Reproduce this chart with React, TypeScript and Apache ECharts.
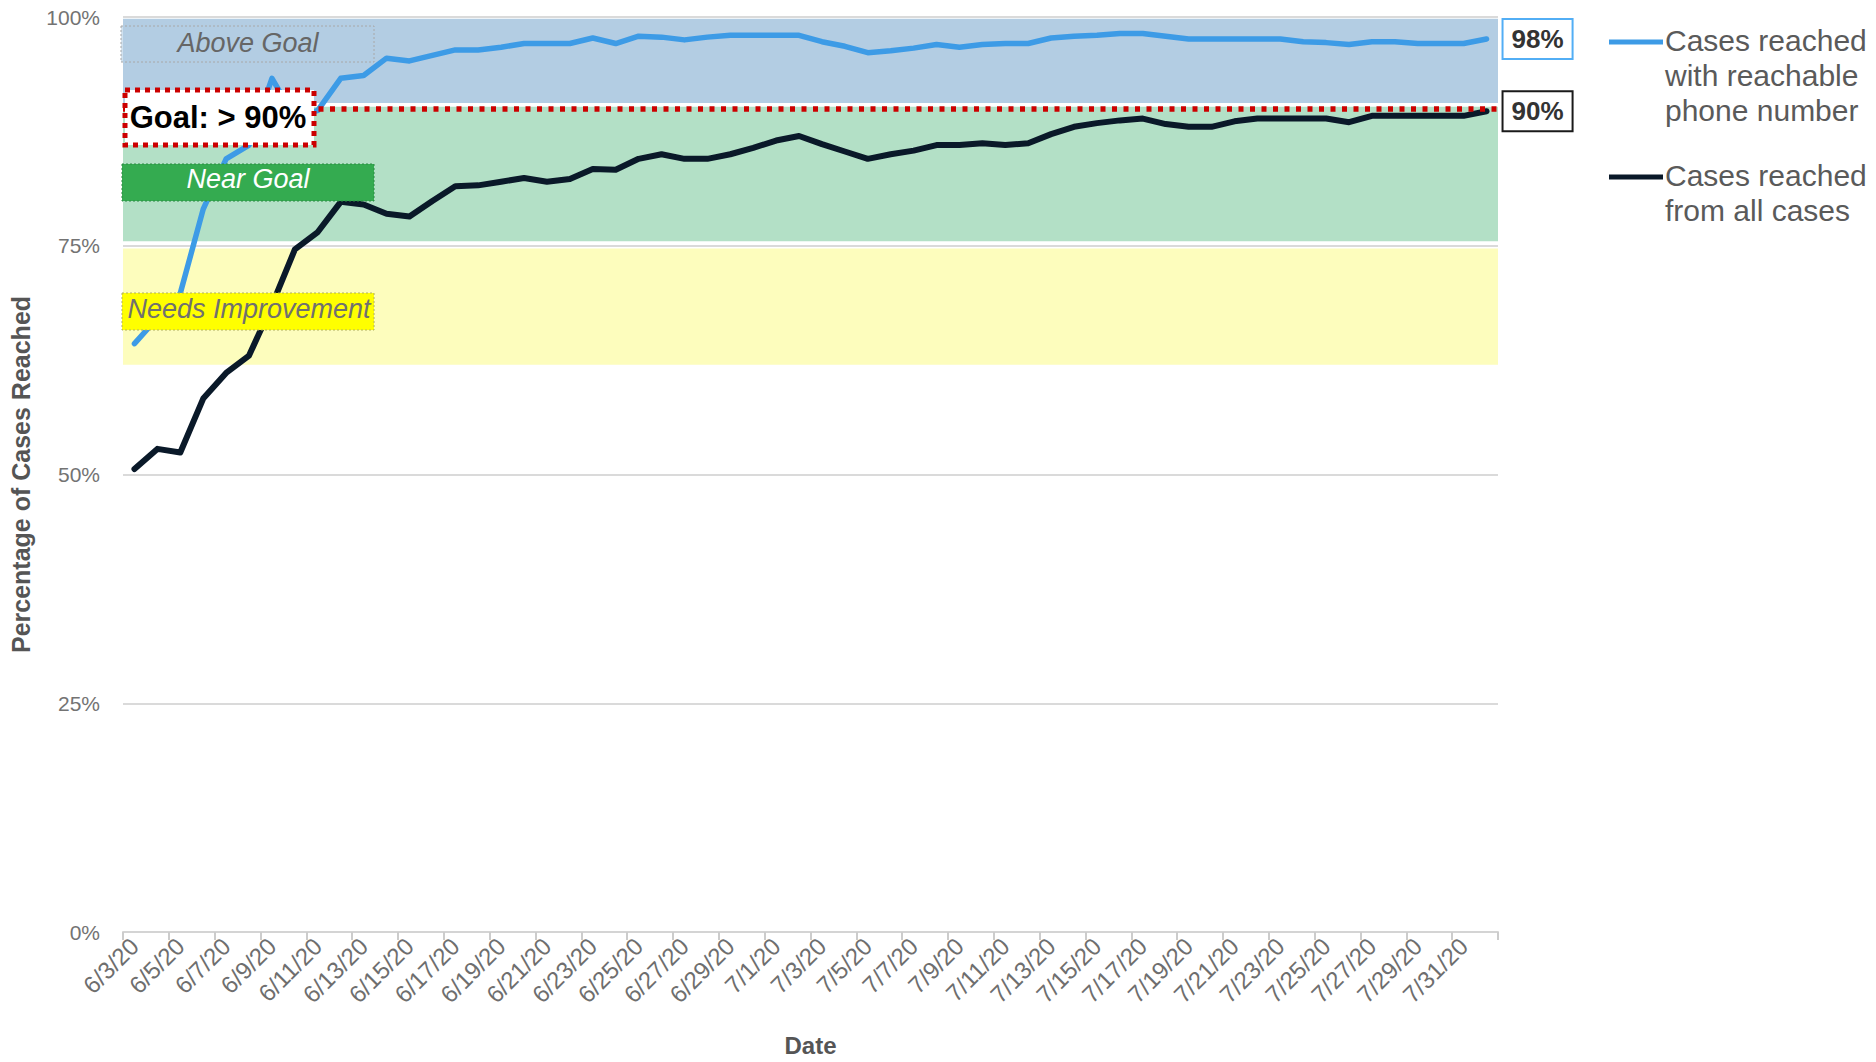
import React, { useEffect, useRef } from 'react';
import * as echarts from 'echarts';

const dates = [
  '6/3/20', '6/4/20', '6/5/20', '6/6/20', '6/7/20', '6/8/20', '6/9/20', '6/10/20', '6/11/20', '6/12/20',
  '6/13/20', '6/14/20', '6/15/20', '6/16/20', '6/17/20', '6/18/20', '6/19/20', '6/20/20', '6/21/20', '6/22/20',
  '6/23/20', '6/24/20', '6/25/20', '6/26/20', '6/27/20', '6/28/20', '6/29/20', '6/30/20', '7/1/20', '7/2/20',
  '7/3/20', '7/4/20', '7/5/20', '7/6/20', '7/7/20', '7/8/20', '7/9/20', '7/10/20', '7/11/20', '7/12/20',
  '7/13/20', '7/14/20', '7/15/20', '7/16/20', '7/17/20', '7/18/20', '7/19/20', '7/20/20', '7/21/20', '7/22/20',
  '7/23/20', '7/24/20', '7/25/20', '7/26/20', '7/27/20', '7/28/20', '7/29/20', '7/30/20', '7/31/20', '8/1/20',
];

// Cases reached with reachable phone number (%)
const reachablePhone = [
  64.3, 67.1, 69.8, 79.0, 84.5, 86.0, 93.3, 89.0, 89.8, 93.3,
  93.6, 95.5, 95.2, 95.8, 96.4, 96.4, 96.7, 97.1, 97.1, 97.1,
  97.7, 97.1, 97.9, 97.8, 97.5, 97.8, 98.0, 98.0, 98.0, 98.0,
  97.3, 96.8, 96.1, 96.3, 96.6, 97.0, 96.7, 97.0, 97.1, 97.1,
  97.7, 97.9, 98.0, 98.2, 98.2, 97.9, 97.6, 97.6, 97.6, 97.6,
  97.6, 97.3, 97.2, 97.0, 97.3, 97.3, 97.1, 97.1, 97.1, 97.6,
];

// Cases reached from all cases (%)
const allCases = [
  50.6, 52.8, 52.4, 58.3, 61.1, 63.0, 68.5, 74.6, 76.5, 79.8,
  79.5, 78.5, 78.2, 79.9, 81.5, 81.6, 82.0, 82.4, 82.0, 82.3,
  83.4, 83.3, 84.5, 85.0, 84.5, 84.5, 85.0, 85.7, 86.5, 87.0,
  86.1, 85.3, 84.5, 85.0, 85.4, 86.0, 86.0, 86.2, 86.0, 86.2,
  87.2, 88.0, 88.4, 88.7, 88.9, 88.3, 88.0, 88.0, 88.6, 88.9,
  88.9, 88.9, 88.9, 88.5, 89.2, 89.2, 89.2, 89.2, 89.2, 89.7,
];

const goalValue = 90;
const aboveGoalBand = [90.6, 99.8];
const nearGoalBand = [75.5, 90.2];
const needsImprovementBand = [62, 74.7];

const seriesNames = ['Cases reached\nwith reachable\nphone number', 'Cases reached\nfrom all cases'];

const FONT = "Arial, 'Liberation Sans', Helvetica, sans-serif";

export default function App() {
  const ref = useRef<HTMLDivElement>(null);

  useEffect(() => {
    const chart = echarts.init(ref.current as HTMLDivElement, null, { renderer: 'svg' });
    const blue = '#3d9be6';
    const dark = '#0a1929';

    chart.setOption({
      animation: false,
      backgroundColor: '#ffffff',
      textStyle: { fontFamily: FONT },
      grid: { left: 121, right: 378, top: 17, bottom: 124, containLabel: false },
      xAxis: {
        type: 'category',
        data: dates,
        boundaryGap: true,
        name: 'Date',
        nameLocation: 'middle',
        nameGap: 101,
        nameTextStyle: { fontSize: 24, fontWeight: 'bold', color: '#555555', fontFamily: FONT },
        axisLine: { show: true, lineStyle: { color: '#d4d4d4', width: 2 } },
        axisTick: { show: true, interval: 1, length: 8, lineStyle: { color: '#cccccc', width: 2 } },
        axisLabel: {
          interval: 1,
          rotate: 45,
          fontSize: 24,
          color: '#6e6e6e',
          margin: 10,
          fontFamily: FONT,
        },
        splitLine: { show: false },
      },
      yAxis: {
        type: 'value',
        min: 0,
        max: 100,
        interval: 25,
        name: 'Percentage of Cases Reached',
        nameLocation: 'middle',
        nameGap: 90,
        nameTextStyle: { fontSize: 25, fontWeight: 'bold', color: '#555555', fontFamily: FONT },
        axisLine: { show: false },
        axisTick: { show: false },
        axisLabel: { formatter: '{value}%', fontSize: 21, color: '#737373', margin: 23, fontFamily: FONT },
        splitLine: { show: true, lineStyle: { color: '#dadada', width: 2 } },
      },
      series: [
        {
          name: seriesNames[0],
          type: 'line',
          data: reachablePhone,
          symbol: 'none',
          z: 4,
          lineStyle: { color: blue, width: 5.5, join: 'round', cap: 'round' },
          itemStyle: { color: blue },
          endLabel: {
            show: true,
            formatter: (p: any) => Math.round(Number(p.value)) + '%',
            fontSize: 26,
            fontWeight: 'bold',
            color: '#333333',
            backgroundColor: '#ffffff',
            borderColor: '#52aef5',
            borderWidth: 2,
            padding: [7, 8, 5, 8],
            distance: 17,
            fontFamily: FONT,
          },
          markArea: {
            silent: true,
            label: { show: false },
            data: [
              [{ yAxis: aboveGoalBand[0], itemStyle: { color: '#b3cde3' } }, { yAxis: aboveGoalBand[1] }],
              [{ yAxis: nearGoalBand[0], itemStyle: { color: '#b3e0c6' } }, { yAxis: nearGoalBand[1] }],
              [{ yAxis: needsImprovementBand[0], itemStyle: { color: '#fdfdbd' } }, { yAxis: needsImprovementBand[1] }],
            ],
          },
          markLine: {
            silent: true,
            symbol: ['none', 'none'],
            label: { show: false },
            lineStyle: { color: '#cc0000', width: 5.5, type: [5, 6.5], cap: 'butt' },
            data: [{ yAxis: goalValue }],
          },
        },
        {
          name: seriesNames[1],
          type: 'line',
          data: allCases,
          symbol: 'none',
          z: 3,
          lineStyle: { color: dark, width: 6, join: 'round', cap: 'round' },
          itemStyle: { color: dark },
          endLabel: {
            show: true,
            formatter: (p: any) => Math.round(Number(p.value)) + '%',
            fontSize: 26,
            fontWeight: 'bold',
            color: '#333333',
            backgroundColor: '#ffffff',
            borderColor: '#1a1a1a',
            borderWidth: 2,
            padding: [7, 8, 5, 8],
            distance: 17,
            fontFamily: FONT,
          },
        },
      ],
      graphic: [
        // Above Goal annotation
        {
          type: 'rect', z: 100,
          shape: { x: 121, y: 26, width: 253, height: 36 },
          style: { fill: 'rgba(179,205,227,0.6)', stroke: '#a8a8a8', lineWidth: 1, lineDash: [2, 2] },
        },
        {
          type: 'text', z: 101, x: 248, y: 43,
          style: { text: 'Above Goal', fontSize: 27, fontStyle: 'italic', fill: '#666666', align: 'center', verticalAlign: 'middle', fontFamily: FONT },
        },
        // Goal annotation
        {
          type: 'rect', z: 100,
          shape: { x: 125, y: 90, width: 189, height: 55 },
          style: { fill: '#ffffff', stroke: '#cc0000', lineWidth: 5, lineDash: [5, 5] },
        },
        {
          type: 'text', z: 101, x: 218, y: 117,
          style: { text: 'Goal: > 90%', fontSize: 31, fontWeight: 'bold', fill: '#000000', align: 'center', verticalAlign: 'middle', fontFamily: FONT },
        },
        // Near Goal annotation
        {
          type: 'rect', z: 100,
          shape: { x: 122, y: 164, width: 252, height: 37 },
          style: { fill: '#34ab50', stroke: '#2a8c42', lineWidth: 1, lineDash: [2, 2] },
        },
        {
          type: 'text', z: 101, x: 248, y: 179,
          style: { text: 'Near Goal', fontSize: 27, fontStyle: 'italic', fill: '#ffffff', align: 'center', verticalAlign: 'middle', fontFamily: FONT },
        },
        // Needs Improvement annotation
        {
          type: 'rect', z: 100,
          shape: { x: 122, y: 293, width: 252, height: 37 },
          style: { fill: '#ffff00', stroke: '#b0b060', lineWidth: 1, lineDash: [2, 2] },
        },
        {
          type: 'text', z: 101, x: 249, y: 309,
          style: { text: 'Needs Improvement', fontSize: 27, fontStyle: 'italic', fill: '#707070', align: 'center', verticalAlign: 'middle', fontFamily: FONT },
        },
        // Legend
        {
          type: 'line', z: 100,
          shape: { x1: 1609, y1: 42, x2: 1663, y2: 42 },
          style: { stroke: blue, lineWidth: 5 },
        },
        {
          type: 'text', z: 101, x: 1665, y: 23,
          style: { text: seriesNames[0], fontSize: 30, lineHeight: 35, fill: '#5a5a5a', align: 'left', verticalAlign: 'top', fontFamily: FONT },
        },
        {
          type: 'line', z: 100,
          shape: { x1: 1609, y1: 177, x2: 1663, y2: 177 },
          style: { stroke: dark, lineWidth: 5 },
        },
        {
          type: 'text', z: 101, x: 1665, y: 158,
          style: { text: seriesNames[1], fontSize: 30, lineHeight: 35, fill: '#5a5a5a', align: 'left', verticalAlign: 'top', fontFamily: FONT },
        },
      ],
    });

    return () => chart.dispose();
  }, []);

  return (
    <div
      ref={ref}
      style={{ position: 'absolute', left: 0, top: 0, width: 1876, height: 1062, background: '#fff' }}
    />
  );
}
